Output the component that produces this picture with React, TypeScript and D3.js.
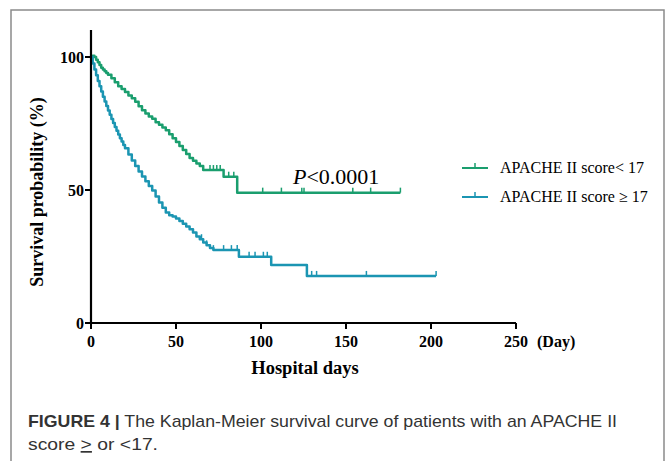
import React from "react";
import * as d3 from "d3";

// ---- Data ----
const lowDays = [0, 1, 2, 3, 4, 5, 6, 7, 8, 9, 10, 12, 14, 16, 18, 20, 22, 24, 26, 28, 30, 32, 34, 36, 38, 40, 42, 44, 46, 48, 50, 52, 54, 56, 58, 60, 62, 64, 66, 78, 86, 182];
const lowSurv = [100, 100.5, 100, 99, 98, 97, 96, 95.3, 94.6, 94, 93.3, 92, 90.5, 89, 88, 86.8, 85.5, 84.5, 83.2, 81.5, 80, 78.8, 77.6, 76.8, 75.5, 74.5, 73.5, 72.5, 71, 69.5, 68, 66.5, 65, 63.5, 62, 61, 60, 59, 57.5, 55, 49, 49];
const lowCensor = [70, 72, 74, 76, 81, 84, 101, 112, 124, 125.3, 154, 164.5, 182];

const highDays = [0, 1, 2, 3, 4, 5, 6, 7, 8, 9, 10, 11, 12, 13, 14, 15, 16, 17, 18, 19, 20, 22, 24, 26, 28, 30, 32, 34, 36, 38, 40, 42, 44, 46, 48, 50, 52, 54, 56, 58, 60, 62, 64, 66, 68, 70, 72, 87, 106, 127, 203];
const highSurv = [100, 97.6, 95.3, 93.1, 91, 89, 87, 85.1, 83.3, 81.6, 79.9, 78.3, 76.7, 75.2, 73.7, 72.3, 70.9, 69.5, 68.2, 66.9, 65.7, 63.3, 61.1, 59, 57, 55.1, 53.3, 51.5, 49.8, 47.6, 45.3, 43.3, 41.5, 40.5, 40, 39.3, 38.3, 37.3, 36.3, 35.2, 34, 32.5, 31.5, 30.3, 29.2, 28.2, 27.4, 24.9, 21.8, 17.7, 17.7];
const highCensor = [65, 68, 72, 78, 82.6, 86, 93, 96.5, 101.4, 103.7, 129.8, 132.7, 162, 203];

const xTicks = [0, 50, 100, 150, 200, 250];
const yTicks = [0, 50, 100];
const seriesNames = ["APACHE II score< 17", "APACHE II score \u2265 17"];
const seriesColors = ["#1a9e6e", "#1b95b2"];

const serif = "'Liberation Serif', 'Times New Roman', serif";
const sans = "'Liberation Sans', Arial, sans-serif";

function survAt(days: number[], surv: number[], d: number) {
  let v = surv[0];
  for (let i = 0; i < days.length; i++) if (days[i] <= d) v = surv[i];
  return v;
}

export default function App() {
  const x = d3.scaleLinear().domain([0, 250]).range([91, 516]);
  const y = d3.scaleLinear().domain([0, 100]).range([323, 57]);
  const line = d3
    .line<[number, number]>()
    .x((d) => x(d[0]))
    .y((d) => y(d[1]))
    .curve(d3.curveStepAfter);

  const series = [
    { days: lowDays, surv: lowSurv, censor: lowCensor, color: seriesColors[0] },
    { days: highDays, surv: highSurv, censor: highCensor, color: seriesColors[1] },
  ];

  return (
    <svg
      width={669}
      height={461}
      style={{ position: "absolute", left: 0, top: 0, background: "#fff" }}
    >
      <rect x={11} y={10} width={653} height={470} fill="#fff" stroke="#8a8a8a" strokeWidth={1.5} />

      {/* curves */}
      {series.map((s, i) => (
        <g key={i}>
          <path
            d={line(s.days.map((d, j) => [d, s.surv[j]] as [number, number])) || ""}
            fill="none"
            stroke={s.color}
            strokeWidth={2.5}
            strokeLinejoin="round"
          />
          {s.censor.map((c, j) => (
            <line
              key={j}
              x1={x(c)}
              x2={x(c)}
              y1={y(survAt(s.days, s.surv, c))}
              y2={y(survAt(s.days, s.surv, c)) - 5}
              stroke={s.color}
              strokeWidth={1.5}
            />
          ))}
        </g>
      ))}

      {/* axes */}
      <line x1={91} x2={91} y1={30} y2={324} stroke="#000" strokeWidth={2.2} />
      <line x1={90} x2={x(250)} y1={323} y2={323} stroke="#000" strokeWidth={2.2} />
      {yTicks.map((t) => (
        <g key={t}>
          <line x1={85} x2={91} y1={y(t)} y2={y(t)} stroke="#000" strokeWidth={2} />
          <text x={84} y={y(t) + 5.5} textAnchor="end" fontFamily={serif} fontWeight="bold" fontSize={16}>
            {t}
          </text>
        </g>
      ))}
      {xTicks.map((t) => (
        <g key={t}>
          <line x1={x(t)} x2={x(t)} y1={323} y2={329} stroke="#000" strokeWidth={2} />
          <text x={x(t)} y={347} textAnchor="middle" fontFamily={serif} fontWeight="bold" fontSize={16}>
            {t}
          </text>
        </g>
      ))}
      <text x={537} y={347} fontFamily={serif} fontWeight="bold" fontSize={16}>
        (Day)
      </text>
      <text x={305} y={374} textAnchor="middle" fontFamily={serif} fontWeight="bold" fontSize={18.5}>
        Hospital days
      </text>
      <text
        transform="translate(43,192) rotate(-90)"
        textAnchor="middle"
        fontFamily={serif}
        fontWeight="bold"
        fontSize={18}
      >
        Survival probability (%)
      </text>

      {/* p value */}
      <text x={293} y={184} fontFamily={serif} fontSize={22}>
        <tspan fontStyle="italic">P</tspan>&lt;0.0001
      </text>

      {/* legend */}
      {seriesNames.map((n, i) => {
        const ly = 168 + i * 29;
        return (
          <g key={i}>
            <line x1={462} x2={488} y1={ly} y2={ly} stroke={seriesColors[i]} strokeWidth={2} />
            <line x1={475} x2={475} y1={ly} y2={ly - 5} stroke={seriesColors[i]} strokeWidth={1.5} />
            <text x={500} y={ly + 5} fontFamily={serif} fontSize={16}>
              {n}
            </text>
          </g>
        );
      })}

      {/* caption */}
      <text x={28} y={427} fontFamily={sans} fontSize={17} fill="#333" textLength={589} lengthAdjust="spacingAndGlyphs">
        <tspan fontWeight="bold">FIGURE 4 |</tspan>
        <tspan> The Kaplan-Meier survival curve of patients with an APACHE II</tspan>
      </text>
      <text x={28} y={450} fontFamily={sans} fontSize={17} fill="#333" textLength={130} lengthAdjust="spacingAndGlyphs">
        score <tspan textDecoration="underline">{">"}</tspan> or &lt;17.
      </text>
    </svg>
  );
}
